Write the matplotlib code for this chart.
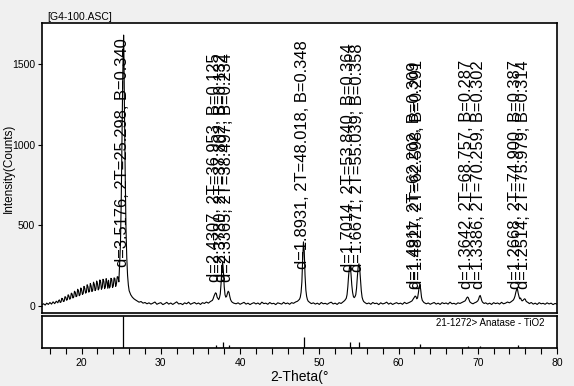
import numpy as np
import matplotlib
matplotlib.use("Agg")
import matplotlib.pyplot as plt

plt.rcParams['font.family'] = ['Liberation Sans', 'DejaVu Sans']

scan = [
    # amorphous hump + noise
    (15.0, 8), (15.2, 14), (15.4, 6), (15.6, 18), (15.8, 10), (16.0, 22), (16.2, 12), (16.4, 26),
    (16.6, 15), (16.8, 30), (17.0, 20), (17.1, 34), (17.2, 38), (17.3, 22), (17.4, 25), (17.5, 48),
    (17.6, 45), (17.7, 28), (17.8, 30), (17.9, 58), (18.0, 55), (18.1, 36), (18.2, 40), (18.3, 70),
    (18.4, 62), (18.5, 42), (18.6, 48), (18.7, 80), (18.8, 75), (18.9, 50), (19.0, 55), (19.1, 92),
    (19.2, 85), (19.3, 58), (19.4, 62), (19.5, 104), (19.6, 95), (19.7, 64), (19.8, 70), (19.9, 112),
    (20.0, 100), (20.1, 72), (20.2, 78), (20.3, 122), (20.4, 110), (20.5, 80), (20.6, 85), (20.7, 132),
    (20.8, 120), (20.9, 86), (21.0, 92), (21.1, 140), (21.2, 125), (21.3, 90), (21.4, 98), (21.5, 148),
    (21.6, 135), (21.7, 96), (21.8, 105), (21.9, 155), (22.0, 140), (22.1, 100), (22.2, 110), (22.3, 162),
    (22.4, 150), (22.5, 104), (22.6, 115), (22.7, 166), (22.8, 155), (22.9, 108), (23.0, 118), (23.1, 170),
    (23.2, 150), (23.3, 110), (23.4, 160), (23.5, 112), (23.6, 120), (23.7, 172), (23.8, 165), (23.9, 115),
    (24.0, 125), (24.1, 175), (24.2, 170), (24.3, 122), (24.4, 140), (24.5, 182), (24.6, 180), (24.7, 150),
    (24.8, 260),
    # 25.3 peak
    (24.9, 380), (25.0, 650), (25.1, 1050), (25.2, 1450), (25.25, 1580), (25.3, 1680), (25.35, 1520),
    (25.4, 1250), (25.5, 820), (25.6, 480), (25.7, 300), (25.8, 190), (25.9, 130), (26.0, 95),
    (26.2, 70), (26.4, 55), (26.6, 45), (26.8, 38),
    (27.0, 32), (27.25, 24), (27.5, 28), (27.75, 18), (28.0, 22), (28.25, 14), (28.5, 20), (28.75, 12),
    (29.0, 18), (29.25, 25), (29.5, 11), (29.75, 17), (30.0, 21), (30.25, 9), (30.5, 15), (30.75, 23),
    (31.0, 12), (31.25, 19), (31.5, 10), (31.75, 18), (32.0, 26), (32.25, 13), (32.5, 16), (32.75, 9),
    (33.0, 20), (33.25, 14), (33.5, 24), (33.75, 11), (34.0, 17), (34.25, 22), (34.5, 13), (34.75, 19),
    (35.0, 10), (35.25, 21), (35.5, 16), (35.75, 25), (36.0, 18), (36.25, 28), (36.5, 35),
    # 37-38.6 group
    (36.6, 45), (36.7, 60), (36.8, 72), (36.9, 82), (37.0, 78), (37.1, 55), (37.2, 48), (37.3, 40),
    (37.4, 52), (37.5, 75), (37.6, 140), (37.7, 230), (37.8, 272), (37.9, 210), (38.0, 120), (38.1, 70),
    (38.2, 55), (38.3, 60), (38.4, 78), (38.5, 92), (38.6, 85), (38.7, 60), (38.8, 40), (38.9, 30),
    (39.0, 24), (39.2, 18),
    (39.5, 14), (39.75, 20), (40.0, 11), (40.25, 17), (40.5, 23), (40.75, 12), (41.0, 18), (41.25, 9),
    (41.5, 16), (41.75, 21), (42.0, 13), (42.25, 19), (42.5, 10), (42.75, 24), (43.0, 15), (43.25, 18),
    (43.5, 11), (43.75, 22), (44.0, 14), (44.25, 17), (44.5, 9), (44.75, 20), (45.0, 16), (45.25, 12),
    (45.5, 23), (45.75, 14), (46.0, 19), (46.25, 11), (46.5, 21), (46.75, 17), (47.0, 25), (47.25, 30),
    (47.5, 42),
    # 48.0 peak
    (47.6, 55), (47.7, 85), (47.8, 150), (47.9, 290), (48.0, 398), (48.1, 340), (48.2, 190), (48.3, 100),
    (48.4, 60), (48.5, 40), (48.6, 30), (48.8, 22),
    (49.0, 15), (49.25, 20), (49.5, 12), (49.75, 18), (50.0, 10), (50.25, 22), (50.5, 14), (50.75, 17),
    (51.0, 11), (51.25, 19), (51.5, 24), (51.75, 13), (52.0, 18), (52.25, 10), (52.5, 21), (52.75, 16),
    (53.0, 26), (53.2, 34),
    # 53.9 / 55.1 pair
    (53.4, 48), (53.5, 70), (53.6, 120), (53.7, 190), (53.8, 238), (53.9, 245), (54.0, 200), (54.1, 130),
    (54.2, 85), (54.3, 60), (54.4, 52), (54.5, 58), (54.6, 70), (54.7, 110), (54.8, 180), (54.9, 240),
    (55.0, 262), (55.1, 230), (55.2, 160), (55.3, 95), (55.4, 55), (55.5, 38), (55.6, 28), (55.8, 20),
    (56.0, 14), (56.25, 19), (56.5, 11), (56.75, 22), (57.0, 15), (57.25, 18), (57.5, 9), (57.75, 20),
    (58.0, 13), (58.25, 17), (58.5, 24), (58.75, 12), (59.0, 19), (59.25, 10), (59.5, 16), (59.75, 21),
    (60.0, 14), (60.25, 18), (60.5, 11), (60.75, 23), (61.0, 15), (61.25, 20), (61.5, 26),
    # 62.1 / 62.7
    (61.7, 32), (61.8, 40), (61.9, 48), (62.0, 55), (62.1, 62), (62.2, 58), (62.3, 45), (62.4, 50),
    (62.5, 80), (62.6, 118), (62.7, 135), (62.8, 100), (62.9, 55), (63.0, 35), (63.2, 22),
    (63.5, 14), (63.75, 19), (64.0, 11), (64.25, 17), (64.5, 22), (64.75, 12), (65.0, 18), (65.25, 10),
    (65.5, 21), (65.75, 15), (66.0, 19), (66.25, 12), (66.5, 24), (66.75, 14), (67.0, 17), (67.25, 11),
    (67.5, 20), (67.75, 16), (68.0, 22), (68.25, 28),
    (68.4, 32), (68.5, 40), (68.6, 50), (68.7, 56), (68.8, 52), (68.9, 38), (69.0, 26), (69.2, 18),
    (69.4, 14), (69.6, 20), (69.8, 24), (70.0, 32),
    (70.1, 42), (70.2, 58), (70.3, 66), (70.4, 52), (70.5, 34), (70.6, 24), (70.8, 16),
    (71.0, 20), (71.25, 12), (71.5, 18), (71.75, 10), (72.0, 21), (72.25, 15), (72.5, 19), (72.75, 12),
    (73.0, 23), (73.25, 14), (73.5, 18), (73.75, 25), (74.0, 20), (74.25, 28), (74.5, 38),
    # 75 / 76
    (74.6, 48), (74.7, 62), (74.8, 85), (74.9, 102), (75.0, 108), (75.1, 80), (75.2, 60), (75.3, 45),
    (75.4, 50), (75.5, 38), (75.6, 32), (75.7, 35), (75.8, 40), (75.9, 45), (76.0, 42), (76.1, 30),
    (76.2, 26), (76.4, 20),
    (76.5, 15), (76.75, 22), (77.0, 12), (77.25, 18), (77.5, 10), (77.75, 21), (78.0, 14), (78.25, 17),
    (78.5, 11), (78.75, 20), (79.0, 13), (79.25, 18), (79.5, 9), (79.75, 16), (80.0, 12),
]
two_theta = [p[0] for p in scan]
counts = [p[1] for p in scan]

# peak labels: position, label y (counts), text
peak_pos = [25.298, 36.953, 37.802, 38.497, 48.018, 53.840, 55.039, 62.202, 62.598, 68.757, 70.259, 74.900, 75.979]
label_y = [245, 150, 150, 150, 228, 210, 210, 105, 105, 105, 105, 105, 105]
peak_text = [
    "d=3.5176, 2T=25.298, B=0.340",
    "d=2.4307, 2T=36.953, B=0.125",
    "d=2.3780, 2T=37.802, B=0.132",
    "d=2.3365, 2T=38.497, B=0.234",
    "d=1.8931, 2T=48.018, B=0.348",
    "d=1.7014, 2T=53.840, B=0.364",
    "d=1.6671, 2T=55.039, B=0.358",
    "d=1.4911, 2T=62.202, B=0.309",
    "d=1.4827, 2T=62.598, B=0.291",
    "d=1.3642, 2T=68.757, B=0.287",
    "d=1.3386, 2T=70.259, B=0.302",
    "d=1.2668, 2T=74.900, B=0.387",
    "d=1.2514, 2T=75.979, B=0.314",
]

# PDF 21-1272 anatase reference lines
ref_pos = [25.281, 36.946, 37.800, 38.575, 48.049, 53.890, 55.060, 62.119, 62.688, 68.760, 70.309, 75.029, 76.017]
ref_int = [100, 10, 20, 10, 35, 20, 20, 4, 14, 6, 6, 10, 4]

W, H = 574, 386
fig = plt.figure(figsize=(W / 100, H / 100), dpi=100)
fig.patch.set_facecolor('#f0f0f0')


def box(l, t, r, b):
    return [l / W, 1 - b / H, (r - l) / W, (b - t) / H]


ax = fig.add_axes(box(42, 23, 557, 312.5))
ax.plot(two_theta, counts, color='black', lw=0.8)
ax.set_xlim(15, 80)
ax.set_ylim(-40, 1755)
ax.set_xticks([])
ax.set_yticks([0, 500, 1000, 1500])
ax.tick_params(axis='y', labelsize=7.5, length=3, width=0.8, pad=2)
for s in ax.spines.values():
    s.set_linewidth(1.2)
for x, y, t in zip(peak_pos, label_y, peak_text):
    ax.text(x + 0.75, y, t, rotation=90, ha='right', va='bottom', fontsize=11.9)
fig.text(47 / W, 1 - 17 / H, "[G4-100.ASC]", fontsize=7.5, va='center', ha='left')
fig.text(9 / W, 1 - 168 / H, "Intensity(Counts)", fontsize=8.5, rotation=90, va='center', ha='center')

ax2 = fig.add_axes(box(42, 316, 557, 348))
ax2.vlines(ref_pos, 0, ref_int, color='black', lw=0.9)
ax2.set_xlim(15, 80)
ax2.set_ylim(0, 100)
ax2.set_yticks([])
ax2.set_xticks(np.arange(16, 81, 2))
ax2.set_xticklabels([str(v) if v % 10 == 0 else '' for v in range(16, 81, 2)])
ax2.tick_params(axis='x', labelsize=7.5, length=4, width=0.8, pad=3)
for s in ax2.spines.values():
    s.set_linewidth(1.2)
ax2.text(0.975, 0.78, "21-1272> Anatase - TiO2", transform=ax2.transAxes, ha='right', va='center', fontsize=7)
ax2.set_xlabel("2-Theta(°", fontsize=10, labelpad=2)

fig.savefig("out.png", dpi=100, facecolor=fig.get_facecolor())
